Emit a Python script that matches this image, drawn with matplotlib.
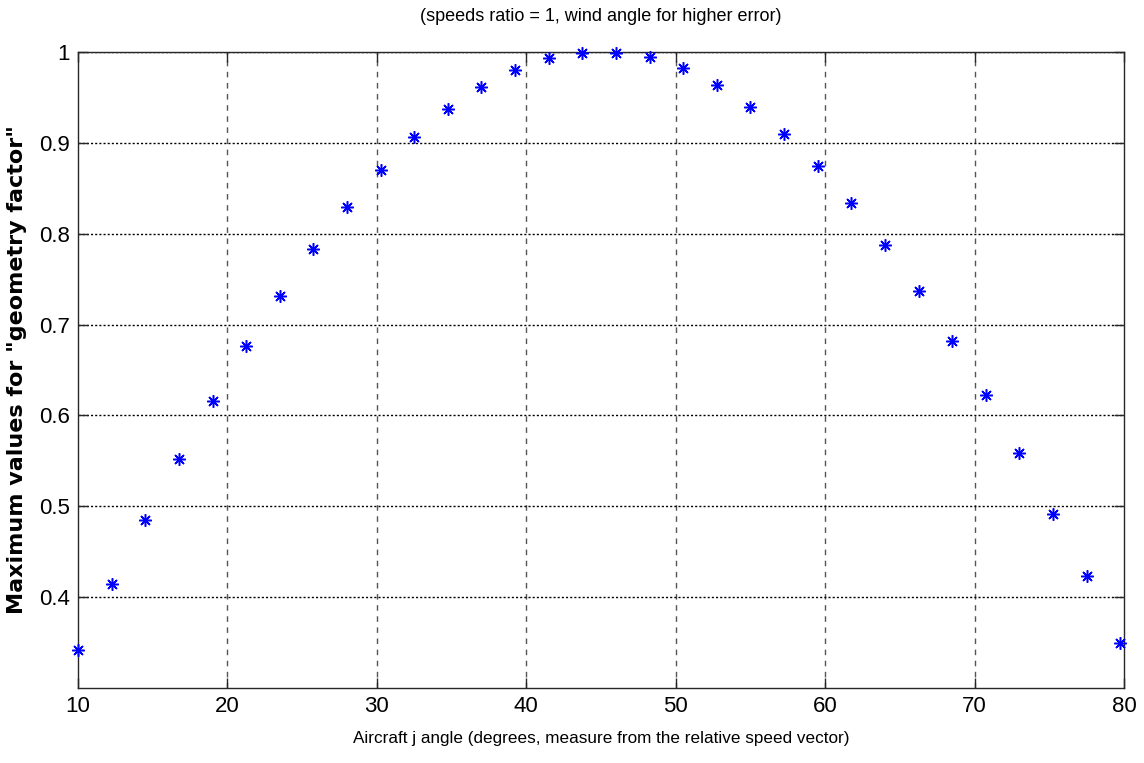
import numpy as np
import matplotlib
matplotlib.use("Agg")
import matplotlib.pyplot as plt

# aircraft j angle (deg) and maximum "geometry factor"
angle = [10.0, 12.25, 14.5, 16.75, 19.0, 21.25, 23.5, 25.75, 28.0, 30.25,
         32.5, 34.75, 37.0, 39.25, 41.5, 43.75, 46.0, 48.25, 50.5, 52.75,
         55.0, 57.25, 59.5, 61.75, 64.0, 66.25, 68.5, 70.75, 73.0, 75.25,
         77.5, 79.75]
gfactor = [0.342, 0.415, 0.485, 0.552, 0.616, 0.676, 0.731, 0.783, 0.829, 0.870,
           0.906, 0.937, 0.961, 0.980, 0.993, 0.999, 0.999, 0.994, 0.982, 0.964,
           0.940, 0.910, 0.875, 0.834, 0.788, 0.737, 0.682, 0.623, 0.559, 0.492,
           0.423, 0.350]

xticks = [10, 20, 30, 40, 50, 60, 70, 80]
yticks = [0.4, 0.5, 0.6, 0.7, 0.8, 0.9, 1.0]
ytick_labels = ['0.4', '0.5', '0.6', '0.7', '0.8', '0.9', '1']

narrow = ['Liberation Sans Narrow', 'Liberation Sans', 'DejaVu Sans']

fig = plt.figure(figsize=(11.44, 7.63), dpi=100)
ax = fig.add_axes([0.0682, 0.0983, 0.9143, 0.8335])

ax.plot(angle, gfactor, linestyle='none', marker=(8, 2, 0), markersize=9,
        markeredgewidth=1.1, color='#0000ff', clip_on=False, zorder=5)

ax.set_xlim(10, 80)
ax.set_ylim(0.3, 1.0)
ax.set_xticks(xticks)
ax.set_yticks(yticks)
ax.set_yticklabels(ytick_labels)

# grid: vertical dashed grey, horizontal dotted black
for xv in xticks[1:-1]:
    ax.axvline(xv, color='#555555', lw=1.0, linestyle=(0, (4, 4)), zorder=0)
for yv in yticks:
    ax.axhline(yv, color='black', lw=1.0, linestyle=(0, (1.5, 1.5)), zorder=0)

ax.tick_params(direction='in', length=7, width=1, top=True, right=True,
               colors='#262626', labelcolor='black', pad=6)
for lab in ax.get_xticklabels() + ax.get_yticklabels():
    lab.set_family(narrow)
    lab.set_fontsize(16)
for sp in ax.spines.values():
    sp.set_color('#262626')
    sp.set_linewidth(1.0)

ax.set_title('(speeds ratio = 1, wind angle for higher error)', family=narrow,
             fontsize=13, pad=22)
ax.set_xlabel('Aircraft j angle (degrees, measure from the relative speed vector)',
              family=narrow, fontsize=12.3, labelpad=10)
ax.set_ylabel('Maximum values for "geometry factor"', family=['DejaVu Sans'],
              fontweight='bold', fontsize=16)
ax.yaxis.set_label_coords(-0.049, 0.5)

fig.savefig('out.png', dpi=100)
